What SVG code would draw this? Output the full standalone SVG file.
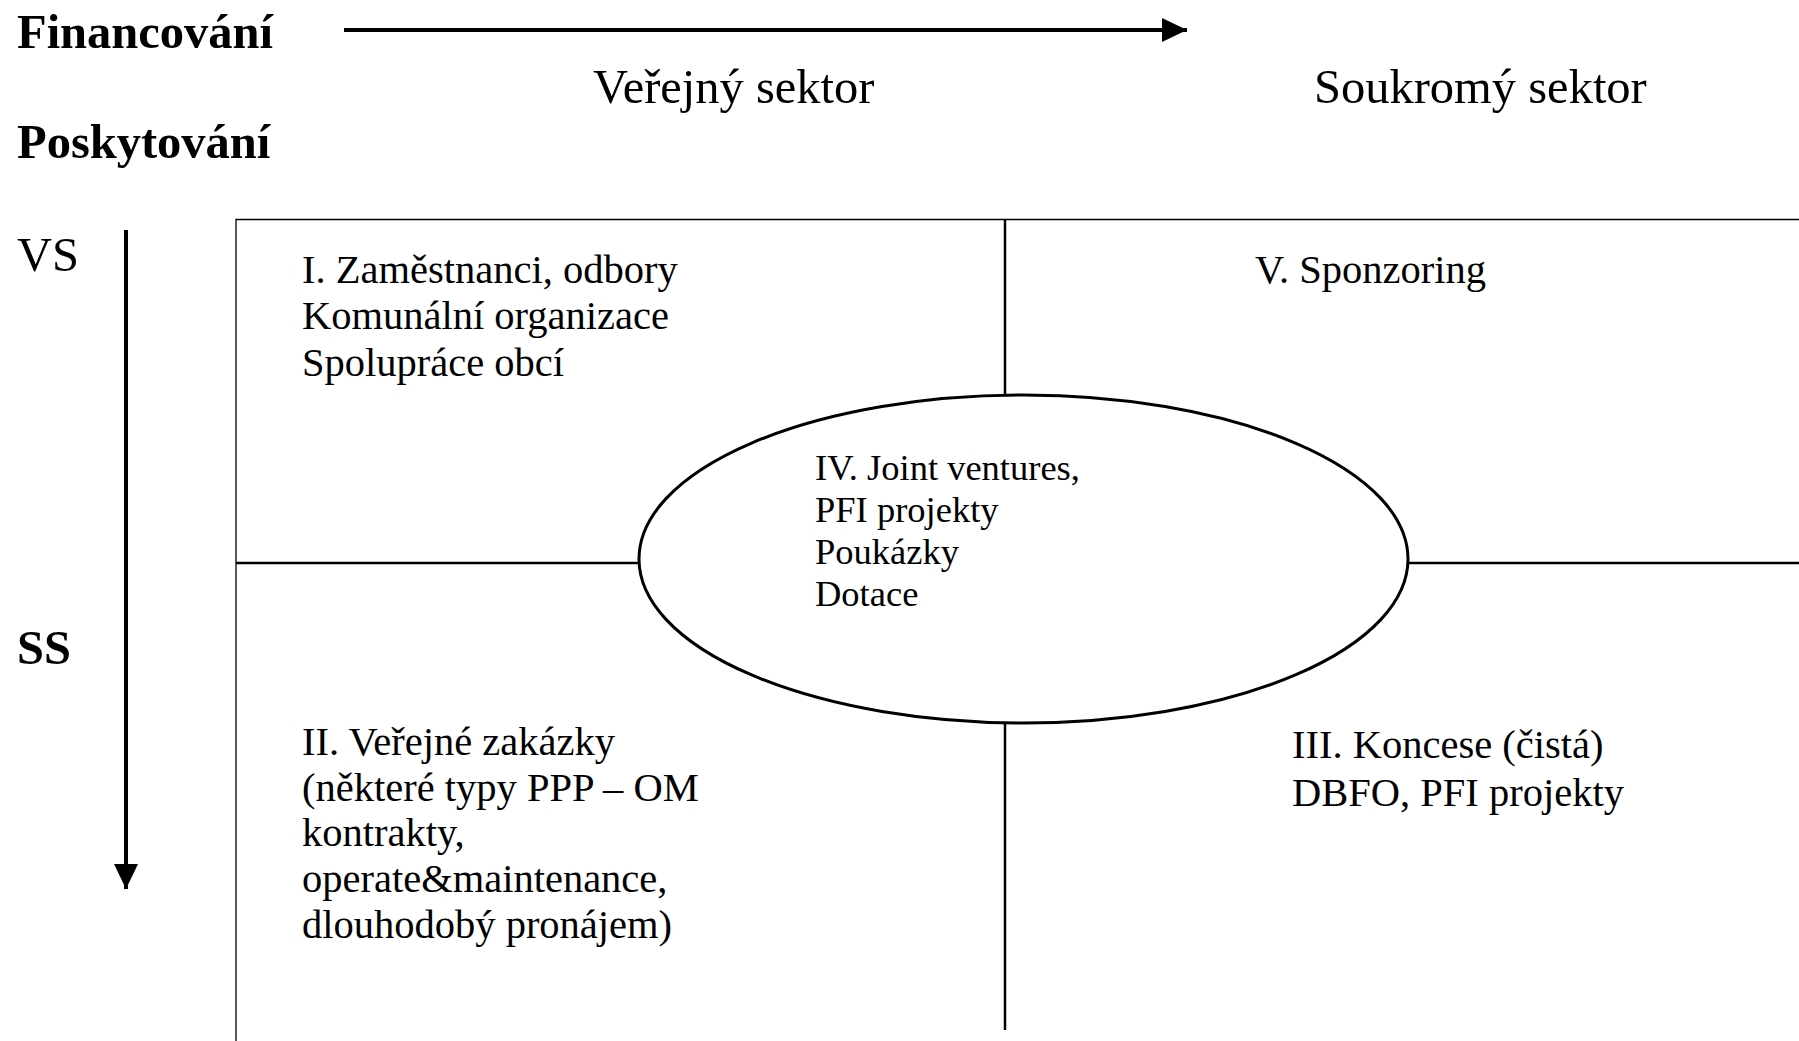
<svg xmlns="http://www.w3.org/2000/svg" width="1799" height="1041" viewBox="0 0 1799 1041">
<style>
text{font-family:"Liberation Serif","Times New Roman",serif;fill:#000}
.h{font-size:48.5px}
.b{font-weight:bold}
.q{font-size:40.5px}
.e{font-size:36.5px}
.thin{stroke:#000;stroke-width:1.3;fill:none}
.div{stroke:#000;stroke-width:2.5;fill:none}
.ax{stroke:#000;stroke-width:4;fill:none}
</style>
<defs>
<marker id="ah" markerUnits="userSpaceOnUse" markerWidth="26" markerHeight="26" refX="25" refY="13" orient="auto" viewBox="0 0 26 26">
<path d="M0,1 L25,13 L0,25 Z" fill="#000"/>
</marker>
</defs>
<rect width="1799" height="1041" fill="#fff"/>
<g id="connectors">
<line x1="344" y1="30" x2="1187" y2="30" class="ax" marker-end="url(#ah)"/>
<line x1="126" y1="230" x2="126" y2="889" class="ax" marker-end="url(#ah)"/>
<path id="frame" d="M236,1041 V219.5 H1799" class="thin"/>
<line x1="236" y1="563" x2="640" y2="563" class="div"/>
<line x1="1407" y1="563" x2="1799" y2="563" class="div"/>
<line x1="1005" y1="219.5" x2="1005" y2="395" class="div"/>
<line x1="1005" y1="723" x2="1005" y2="1030" class="div"/>
</g>
<g id="axis-labels">
<text x="17" y="48" class="h b">Financování</text>
<text x="17" y="158" class="h b">Poskytování</text>
<text x="17" y="271" class="h">VS</text>
<text x="17" y="664" class="h b">SS</text>
</g>
<g id="col-verejny"><text x="593" y="103" class="h">Veřejný sektor</text></g>
<g id="col-soukromy"><text x="1314" y="103" class="h">Soukromý sektor</text></g>
<g id="q1">
<text x="302" y="283" class="q">I. Zaměstnanci, odbory</text>
<text x="302" y="329" class="q">Komunální organizace</text>
<text x="302" y="376" class="q">Spolupráce obcí</text>
</g>
<g id="q5">
<text x="1255" y="283" class="q">V. Sponzoring</text>
</g>
<g id="q4">
<ellipse cx="1023.5" cy="559" rx="384.5" ry="164" fill="#fff" stroke="#000" stroke-width="3"/>
<text x="815" y="480" class="e">IV. Joint ventures,</text>
<text x="815" y="522" class="e">PFI projekty</text>
<text x="815" y="564" class="e">Poukázky</text>
<text x="815" y="606" class="e">Dotace</text>
</g>
<g id="q2">
<text x="302" y="755" class="q">II. Veřejné zakázky</text>
<text x="302" y="801" class="q">(některé typy PPP – OM</text>
<text x="302" y="846" class="q">kontrakty,</text>
<text x="302" y="892" class="q">operate&amp;maintenance,</text>
<text x="302" y="938" class="q">dlouhodobý pronájem)</text>
</g>
<g id="q3">
<text x="1292" y="758" class="q">III. Koncese (čistá)</text>
<text x="1292" y="806" class="q">DBFO, PFI projekty</text>
</g>
</svg>
